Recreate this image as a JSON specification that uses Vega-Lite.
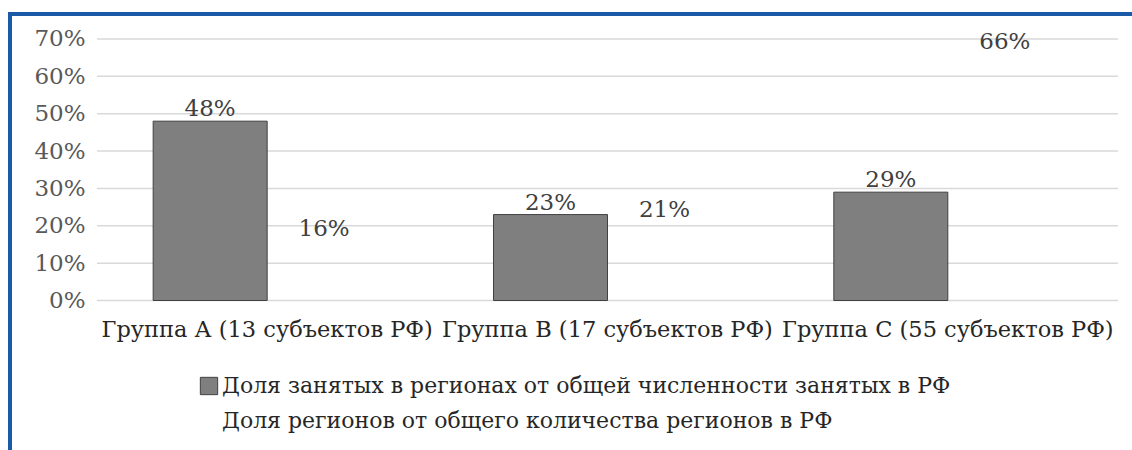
{
  "$schema": "https://vega.github.io/schema/vega-lite/v6.json",
  "width": 1128,
  "height": 442,
  "autosize": {"type": "none"},
  "padding": {"left": 10, "top": 14, "right": -6, "bottom": -6},
  "background": "white",
  "config": {"view": {"stroke": "#1a5aa6", "strokeWidth": 4}, "font": "DejaVu Serif"},
  "datasets": {
    "bars": [
      {"group": "Группа А (13 субъектов РФ)", "series": "Доля занятых в регионах от общей численности занятых в РФ", "value": 0.48},
      {"group": "Группа А (13 субъектов РФ)", "series": "Доля регионов от общего количества регионов в РФ", "value": 0.16},
      {"group": "Группа В (17 субъектов РФ)", "series": "Доля занятых в регионах от общей численности занятых в РФ", "value": 0.23},
      {"group": "Группа В (17 субъектов РФ)", "series": "Доля регионов от общего количества регионов в РФ", "value": 0.21},
      {"group": "Группа С (55 субъектов РФ)", "series": "Доля занятых в регионах от общей численности занятых в РФ", "value": 0.29},
      {"group": "Группа С (55 субъектов РФ)", "series": "Доля регионов от общего количества регионов в РФ", "value": 0.66}
    ],
    "grid": [{"t": 0}, {"t": 0.1}, {"t": 0.2}, {"t": 0.3}, {"t": 0.4}, {"t": 0.5}, {"t": 0.6}, {"t": 0.7}]
  },
  "layer": [
    {
      "data": {"name": "grid"},
      "mark": {"type": "rule", "color": "#d9d9d9", "strokeWidth": 1.5},
      "encoding": {
        "x": {"datum": "Группа А (13 субъектов РФ)", "type": "nominal", "bandPosition": 0,
          "scale": {"domain": ["Группа А (13 субъектов РФ)", "Группа В (17 субъектов РФ)", "Группа С (55 субъектов РФ)"], "paddingInner": 0, "paddingOuter": 0.1572, "align": 0.813},
          "axis": {"title": null, "offset": -155.5, "domain": false, "ticks": false, "labelPadding": 18, "labelFontSize": 22.5, "labelColor": "#262626", "labelFont": "DejaVu Serif", "labelLimit": 400, "labelOverlap": false, "labelAngle": 0}},
        "x2": {"datum": "Группа С (55 субъектов РФ)", "bandPosition": 1},
        "y": {"field": "t", "type": "quantitative",
          "scale": {"domain": [-0.41626, 0.76692], "nice": false, "zero": false},
          "axis": {"title": null, "values": [0, 0.1, 0.2, 0.3, 0.4, 0.5, 0.6, 0.7], "format": ".0%", "offset": -78, "domain": false, "ticks": false, "grid": false, "labelPadding": 3, "labelFontSize": 23, "labelColor": "#595959", "labelFont": "DejaVu Serif"}}
      }
    },
    {
      "data": {"name": "bars"},
      "mark": {"type": "bar", "strokeWidth": 1},
      "encoding": {
        "x": {"field": "group", "type": "nominal",
          "scale": {"domain": ["Группа А (13 субъектов РФ)", "Группа В (17 субъектов РФ)", "Группа С (55 субъектов РФ)"], "paddingInner": 0, "paddingOuter": 0.1572, "align": 0.813},
          "axis": {"title": null, "offset": -155.5, "domain": false, "ticks": false, "labelPadding": 18, "labelFontSize": 22.5, "labelColor": "#262626", "labelFont": "DejaVu Serif", "labelLimit": 400, "labelOverlap": false, "labelAngle": 0}},
        "xOffset": {"field": "series", "type": "nominal",
          "scale": {"domain": ["Доля занятых в регионах от общей численности занятых в РФ", "Доля регионов от общего количества регионов в РФ"], "paddingInner": 0, "paddingOuter": 0.4927}},
        "y": {"field": "value", "type": "quantitative",
          "scale": {"domain": [-0.41626, 0.76692], "nice": false, "zero": false},
          "axis": {"title": null, "values": [0, 0.1, 0.2, 0.3, 0.4, 0.5, 0.6, 0.7], "format": ".0%", "offset": -78, "domain": false, "ticks": false, "grid": false, "labelPadding": 3, "labelFontSize": 23, "labelColor": "#595959", "labelFont": "DejaVu Serif"}},
        "color": {"field": "series", "type": "nominal",
          "scale": {"domain": ["Доля занятых в регионах от общей численности занятых в РФ", "Доля регионов от общего количества регионов в РФ"], "range": ["#7f7f7f", "transparent"]},
          "legend": {"title": null, "orient": "none", "legendX": 188, "legendY": 361, "direction": "vertical", "symbolType": "square", "symbolSize": 300, "symbolStrokeWidth": 1, "labelFontSize": 22, "labelFont": "DejaVu Serif", "labelColor": "#262626", "labelLimit": 1000, "rowPadding": 13, "padding": 0, "labelOffset": 2, "symbolOffset": 0}},
        "stroke": {"field": "series", "type": "nominal",
          "scale": {"domain": ["Доля занятых в регионах от общей численности занятых в РФ", "Доля регионов от общего количества регионов в РФ"], "range": ["#404040", "transparent"]},
          "legend": {"title": null, "orient": "none", "legendX": 188, "legendY": 361, "direction": "vertical", "symbolType": "square", "symbolSize": 300, "symbolStrokeWidth": 1, "labelFontSize": 22, "labelFont": "DejaVu Serif", "labelColor": "#262626", "labelLimit": 1000, "rowPadding": 13, "padding": 0, "labelOffset": 2, "symbolOffset": 0}}
      }
    },
    {
      "data": {"name": "bars"},
      "mark": {"type": "text", "baseline": "alphabetic", "dy": -5, "fontSize": 23, "font": "DejaVu Serif", "color": "#404040"},
      "encoding": {
        "x": {"field": "group", "type": "nominal",
          "scale": {"domain": ["Группа А (13 субъектов РФ)", "Группа В (17 субъектов РФ)", "Группа С (55 субъектов РФ)"], "paddingInner": 0, "paddingOuter": 0.1572, "align": 0.813},
          "axis": {"title": null, "offset": -155.5, "domain": false, "ticks": false, "labelPadding": 18, "labelFontSize": 22.5, "labelColor": "#262626", "labelFont": "DejaVu Serif", "labelLimit": 400, "labelOverlap": false, "labelAngle": 0}},
        "xOffset": {"field": "series", "type": "nominal",
          "scale": {"domain": ["Доля занятых в регионах от общей численности занятых в РФ", "Доля регионов от общего количества регионов в РФ"], "paddingInner": 0, "paddingOuter": 0.4927}},
        "y": {"field": "value", "type": "quantitative",
          "scale": {"domain": [-0.41626, 0.76692], "nice": false, "zero": false},
          "axis": {"title": null, "values": [0, 0.1, 0.2, 0.3, 0.4, 0.5, 0.6, 0.7], "format": ".0%", "offset": -78, "domain": false, "ticks": false, "grid": false, "labelPadding": 3, "labelFontSize": 23, "labelColor": "#595959", "labelFont": "DejaVu Serif"}},
        "text": {"field": "value", "type": "quantitative", "format": ".0%"}
      }
    }
  ]
}
